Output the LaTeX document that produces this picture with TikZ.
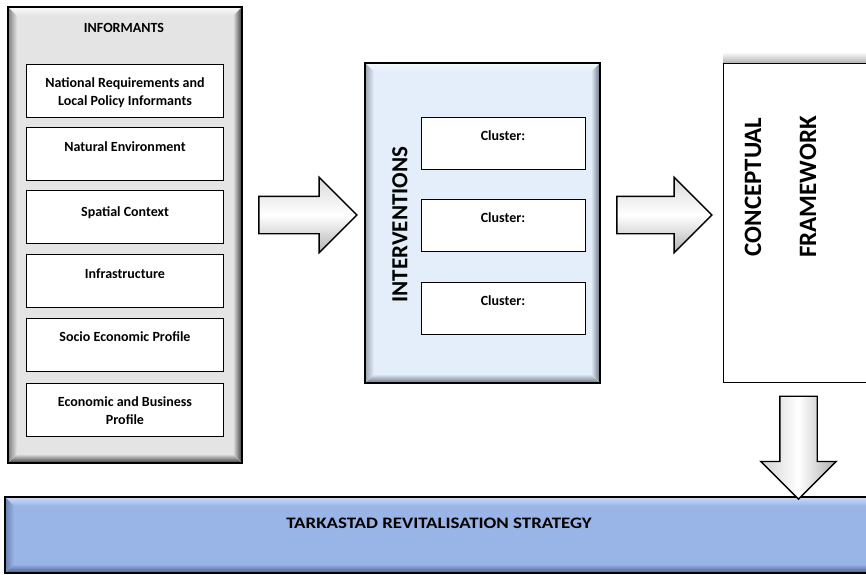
\documentclass[tikz,border=0pt]{standalone}
\usepackage{fontspec}
\setmainfont{Carlito}
\usepackage{graphicx}
\usetikzlibrary{shapes.arrows,calc}

\definecolor{panelgray}{HTML}{E4E4E4}
\definecolor{panellight}{HTML}{FAFAFA}
\definecolor{paneldark}{HTML}{3A3A3A}
\definecolor{icebase}{HTML}{E3EEFA}
\definecolor{icelight}{HTML}{F6F9FD}
\definecolor{icedark}{HTML}{6A7482}
\definecolor{barbase}{HTML}{99B4E6}
\definecolor{barlight}{HTML}{CFDDF6}
\definecolor{bardark}{HTML}{4A5F8A}

\tikzset{
  % raised frame: four shaded bevel strips inside the node border
  bevel/.style n args={3}{
    fill=#1, draw=black, line width=2.2pt,
    path picture={
      \coordinate (pNW) at (path picture bounding box.north west);
      \coordinate (pNE) at (path picture bounding box.north east);
      \coordinate (pSW) at (path picture bounding box.south west);
      \coordinate (pSE) at (path picture bounding box.south east);
      \fill[top color=#2, bottom color=#1]
        (pNW) -- (pNE) -- ($(pNE)+(-9,9)$) -- ($(pNW)+(9,9)$) -- cycle;
      \fill[left color=#3!60!#1, right color=#1]
        (pNW) -- (pSW) -- ($(pSW)+(9,-9)$) -- ($(pNW)+(9,9)$) -- cycle;
      \fill[left color=#1, right color=#3]
        (pNE) -- (pSE) -- ($(pSE)+(-9,-9)$) -- ($(pNE)+(-9,9)$) -- cycle;
      \fill[top color=#1, bottom color=#3]
        (pSW) -- (pSE) -- ($(pSE)+(-9,-9)$) -- ($(pSW)+(9,-9)$) -- cycle;
    }
  },
  itembox/.style={draw=black, line width=1pt, fill=white,
    minimum width=197pt, minimum height=53pt, inner sep=0pt},
  clusterbox/.style={draw=black, line width=1pt, fill=white,
    minimum width=164pt, minimum height=52pt, inner sep=0pt},
  itemtext/.style={font=\fontsize{14}{18}\selectfont\bfseries,
    align=center, inner sep=0pt, anchor=north},
  bigtext/.style={font=\fontsize{23}{27}\selectfont\bfseries,
    rotate=90, inner sep=0pt},
  hugetext/.style={font=\fontsize{25}{30}\selectfont\bfseries,
    rotate=90, inner sep=0pt},
  blockarrow/.style={single arrow, draw=black, line width=1.4pt,
    inner sep=18pt, single arrow head extend=19pt,
    single arrow tip angle=90, anchor=tail},
}

\begin{document}
\begin{tikzpicture}[x=1pt,y=-1pt]
\useasboundingbox (0,0) rectangle (866,574);
\fill[white] (0,0) rectangle (866,574);

% ---------- informants panel ----------
\node[bevel={panelgray}{panellight}{paneldark},
      minimum width=234pt, minimum height=456pt, inner sep=0pt]
      (inf) at (125,235) {};
\node[itemtext] (infT) at (124,23) {INFORMANTS};

\node[itembox] (b1) at (125,90.5) {};
\node[itembox] (b2) at (125,153.5) {};
\node[itembox] (b3) at (125,216.5) {};
\node[itembox] (b4) at (125,281) {};
\node[itembox] (b5) at (125,345) {};
\node[itembox] (b6) at (125,410) {};

\node[itemtext] (b1t) at ($(b1.north)+(0,14)$) {National Requirements and\\Local Policy Informants};
\node[itemtext] (b2t) at ($(b2.north)+(0,15)$) {Natural Environment};
\node[itemtext] (b3t) at ($(b3.north)+(0,17)$) {Spatial Context};
\node[itemtext] (b4t) at ($(b4.north)+(0,15)$) {Infrastructure};
\node[itemtext] (b5t) at ($(b5.north)+(0,13)$) {Socio Economic Profile};
\node[itemtext] (b6t) at ($(b6.north)+(0,13)$) {Economic and Business\\Profile};

% ---------- interventions panel ----------
\node[bevel={icebase}{icelight}{icedark},
      minimum width=235pt, minimum height=320pt, inner sep=0pt]
      (int) at (482.5,223) {};
\node[bigtext] (intT) at (400,224.5) {INTERVENTIONS};

\node[clusterbox] (c1) at (503,143) {};
\node[clusterbox] (c2) at (503,225.5) {};
\node[clusterbox] (c3) at (503,308.5) {};
\node[itemtext] (c1t) at ($(c1.north)+(0,13.5)$) {Cluster:};
\node[itemtext] (c2t) at ($(c2.north)+(0,13.5)$) {Cluster:};
\node[itemtext] (c3t) at ($(c3.north)+(0,13.5)$) {Cluster:};

% ---------- conceptual framework ----------
\fill[top color=white, bottom color=black!30]
  (723,52) rectangle (870,63);
\node[draw=black, line width=1pt, fill=white, inner sep=0pt,
      minimum width=160pt, minimum height=319pt] (cf) at (803,222.5) {};
\node[hugetext] (cfA) at (753,187) {CONCEPTUAL};
\node[hugetext] (cfB) at (808,187) {FRAMEWORK};

% ---------- strategy bar ----------
\node[bevel={barbase}{barlight}{bardark},
      minimum width=880pt, minimum height=76pt, inner sep=0pt]
      (bar) at (445,535) {};
\node[inner sep=0pt, font=\fontsize{16}{19}\selectfont\bfseries]
      (barT) at (439,523.5) {\scalebox{1.18}[1]{TARKASTAD REVITALISATION STRATEGY}};

% ---------- flow arrows ----------
\node[blockarrow, minimum height=98pt,
      top color=gray!30, bottom color=gray!60, middle color=white]
      (a1) at ($(inf.east)+(15,-20)$) {};
\node[blockarrow, minimum height=95pt,
      top color=gray!30, bottom color=gray!60, middle color=white]
      (a2) at ($(int.east)+(15,-8)$) {};
\node[blockarrow, minimum height=103pt, shape border rotate=270,
      left color=gray!35, right color=gray!65, middle color=white]
      (a3) at ($(cf.south)+(-4.5,13)$) {};
\end{tikzpicture}
\end{document}
